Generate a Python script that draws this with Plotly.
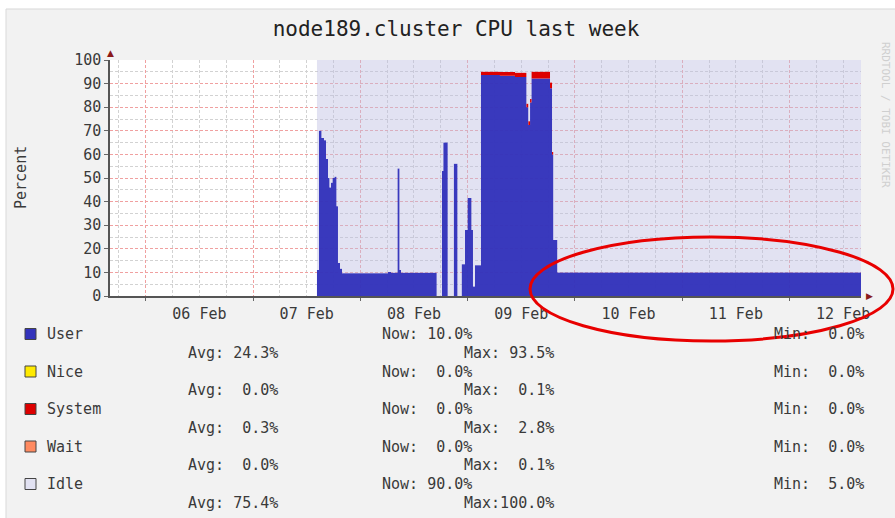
import plotly.graph_objects as go

# ---- data ----
times = [
    "2010-02-07 14:18", "2010-02-07 14:45", "2010-02-07 15:19", "2010-02-07 15:52",
    "2010-02-07 16:19", "2010-02-07 16:46", "2010-02-07 17:06", "2010-02-07 17:26",
    "2010-02-07 17:47", "2010-02-07 18:13", "2010-02-07 18:40", "2010-02-07 19:00",
    "2010-02-07 19:27", "2010-02-07 19:54", "2010-02-08 06:11", "2010-02-08 06:52",
    "2010-02-08 08:19", "2010-02-08 08:46", "2010-02-08 09:06", "2010-02-08 17:05",
    "2010-02-08 18:16", "2010-02-08 18:34", "2010-02-08 19:33", "2010-02-08 20:55",
    "2010-02-08 21:44", "2010-02-08 22:41", "2010-02-08 23:25", "2010-02-08 23:59",
    "2010-02-09 00:52", "2010-02-09 01:12", "2010-02-09 01:39", "2010-02-09 02:59",
    "2010-02-09 07:14", "2010-02-09 10:36", "2010-02-09 13:10", "2010-02-09 13:35",
    "2010-02-09 13:58", "2010-02-09 14:17", "2010-02-09 18:26", "2010-02-09 18:53",
    "2010-02-09 19:10", "2010-02-09 20:04", "2010-02-12 16:00",
]
user = [11, 70, 67, 66, 58, 50, 46, 48, 50, 50.5, 38, 14, 11.5, 9.6, 10.2, 9.9,
        54, 11, 9.8, 0, 53, 65, 0, 56, 0, 13.5, 28, 41.5, 28, 4, 13, 93.6,
        93.3, 92.8, 80, 72.5, 82, 92.2, 88, 60, 23.7, 10.0, 10.0]
nice = [0, 0, 0, 0, 0, 0, 0, 0, 0, 0, 0, 0, 0, 0, 0, 0, 0, 0, 0, 0, 0, 0,
        0, 0, 0, 0, 0, 0, 0, 0, 0, 0, 0, 0, 0, 0, 0, 0, 0, 0, 0, 0, 0]
system = [0, 0, 0, 0, 0, 0, 0, 0, 0, 0, 0, 0, 0, 0, 0, 0, 0, 0, 0, 0, 0, 0,
          0, 0, 0, 0, 0, 0, 0, 0, 0, 1.4, 1.6, 1.8, 1.5, 1.5, 1.5, 2.8, 2.5, 1.0,
          0, 0, 0]
wait = [0, 0, 0, 0, 0, 0, 0, 0, 0, 0, 0, 0, 0, 0, 0, 0, 0, 0, 0, 0, 0, 0,
        0, 0, 0, 0, 0, 0, 0, 0, 0, 0, 0, 0, 0, 0, 0, 0, 0, 0, 0, 0, 0]
idle = [89, 30, 33, 34, 42, 50, 54, 52, 50, 49.5, 62, 86, 88.5, 90.4, 89.8, 90.1,
        46, 89, 90.2, 100, 47, 35, 100, 44, 100, 86.5, 72, 58.5, 72, 96, 87, 5,
        5.1, 5.4, 18.5, 26, 16.5, 5, 9.5, 39, 76.3, 90.0, 90.0]

series_names = ["User", "Nice", "System", "Wait", "Idle"]
series_colors = ["#3333bb", "#ffea00", "#dd0000", "#ff8a60", "#e2e2f2"]
fill_colors = ["rgba(51,51,187,0.97)", "rgba(255,234,0,1)", "rgba(221,0,0,1)",
               "rgba(255,138,96,1)", "rgba(190,190,226,0.45)"]
stat_now = ["10.0%", " 0.0%", " 0.0%", " 0.0%", "90.0%"]
stat_avg = ["24.3%", " 0.0%", " 0.3%", " 0.0%", "75.4%"]
stat_max = [" 93.5%", "  0.1%", "  2.8%", "  0.1%", "100.0%"]
stat_min = [" 0.0%", " 0.0%", " 0.0%", " 0.0%", " 5.0%"]

title_text = "node189.cluster CPU last week"
y_title = "Percent"
x_range = ["2010-02-05 16:00", "2010-02-12 16:00"]

MONO = "DejaVu Sans Mono"
W, H = 895, 518
L, R, T, B = 110, 34, 60, 222
PW, PH = W - L - R, H - T - B


def px(x):
    return (x - L) / PW


def py(y):
    return (H - B - y) / PH


fig = go.Figure()
for name, vals, fc in zip(series_names, [user, nice, system, wait, idle], fill_colors):
    fig.add_trace(go.Scatter(
        x=times, y=vals, name=name, mode="lines", stackgroup="cpu",
        line=dict(width=0, shape="hv"), fillcolor=fc, showlegend=False,
        hoverinfo="x+y+name",
    ))

shapes = []
# white strips outside the grey panel (top and left), plus panel border
shapes.append(dict(type="rect", xref="paper", yref="paper", layer="below",
                   x0=px(-5), x1=px(905), y0=py(-5), y1=py(9),
                   fillcolor="white", line=dict(width=0)))
shapes.append(dict(type="rect", xref="paper", yref="paper", layer="below",
                   x0=px(-5), x1=px(6), y0=py(-5), y1=py(530),
                   fillcolor="white", line=dict(width=0)))
shapes.append(dict(type="path", xref="paper", yref="paper", layer="below",
                   path="M %f,%f L %f,%f L %f,%f" % (px(6), py(530), px(6), py(9), px(905), py(9)),
                   line=dict(color="#d9d9d9", width=1)))
annotations = []
nb = "\u00a0"
row_y = [334, 371.5, 409, 446.5, 484]
for i, name in enumerate(series_names):
    yc = row_y[i]
    shapes.append(dict(type="rect", xref="paper", yref="paper",
                       x0=px(25), x1=px(36), y0=py(yc + 5.5), y1=py(yc - 5.5),
                       fillcolor=series_colors[i], line=dict(color="#444444", width=1)))
    items = [
        (45, yc, name),
        (380, yc, "Now:" + nb + stat_now[i].replace(" ", nb)),
        (772, yc, "Min:" + nb + stat_min[i].replace(" ", nb)),
        (186, yc + 18.8, "Avg:" + nb + stat_avg[i].replace(" ", nb)),
        (462, yc + 18.8, "Max:" + stat_max[i].replace(" ", nb)),
    ]
    for x0, y0, t in items:
        annotations.append(dict(xref="paper", yref="paper", x=px(x0), y=py(y0),
                                text=t, showarrow=False, xanchor="left", yanchor="middle",
                                font=dict(family=MONO, size=15, color="#3a3a3a")))

# y axis title
annotations.append(dict(xref="paper", yref="paper", x=px(21), y=py(178), text=y_title,
                        textangle=-90, showarrow=False, xanchor="center", yanchor="middle",
                        font=dict(family=MONO, size=15, color="#3a3a3a")))
# axis arrows
annotations.append(dict(xref="paper", yref="paper", x=px(110.5), y=py(53), text="▲",
                        showarrow=False, xanchor="center", yanchor="middle",
                        font=dict(family="DejaVu Sans", size=9, color="#8b1a1a")))
annotations.append(dict(xref="paper", yref="paper", x=px(869), y=py(296), text="▶",
                        showarrow=False, xanchor="center", yanchor="middle",
                        font=dict(family="DejaVu Sans", size=9, color="#8b1a1a")))
# faint vertical credit text
annotations.append(dict(xref="paper", yref="paper", x=px(886), y=py(115),
                        text="RRDTOOL / TOBI OETIKER", textangle=90, showarrow=False,
                        xanchor="center", yanchor="middle",
                        font=dict(family=MONO, size=11, color="#cfcfcf")))
# highlighted region (red ellipse)
shapes.append(dict(type="circle", xref="paper", yref="paper",
                   x0=px(530), x1=px(893), y0=py(237), y1=py(341),
                   line=dict(color="#e80000", width=3)))

fig.update_layout(
    width=W, height=H,
    margin=dict(l=L, r=R, t=T, b=B),
    paper_bgcolor="#f2f2f2", plot_bgcolor="white",
    font=dict(family=MONO, size=15, color="#3a3a3a"),
    title=dict(text=title_text, x=456 / W, xanchor="center", y=1 - 29 / H, yanchor="middle",
               font=dict(family=MONO, size=21, color="#222222")),
    shapes=shapes, annotations=annotations,
    xaxis=dict(
        type="date", range=x_range, tick0="2010-02-06", dtick=86400000,
        tickformat="%d %b", ticklabelmode="period",
        showgrid=True, gridcolor="#f0a0a0", griddash="3px,2px", gridwidth=1,
        showline=True, linecolor="#555555", linewidth=1.5,
        ticks="outside", ticklen=3, tickcolor="#666666",
        tickfont=dict(family=MONO, size=15, color="#3a3a3a"),
        zeroline=False, layer="above traces",
        minor=dict(tick0="2010-02-06", dtick=21600000, showgrid=True,
                   gridcolor="#d2d2d2", griddash="3px,2px", gridwidth=1),
    ),
    yaxis=dict(
        range=[0, 100], dtick=10, tick0=0,
        showgrid=True, gridcolor="#f0a0a0", griddash="3px,2px", gridwidth=1,
        showline=True, linecolor="#555555", linewidth=1.5,
        ticks="outside", ticklen=4, tickcolor="#666666", ticklabelstandoff=0,
        tickfont=dict(family=MONO, size=15, color="#3a3a3a"),
        zeroline=False, layer="above traces",
        minor=dict(dtick=5, showgrid=True, gridcolor="#d2d2d2", griddash="3px,2px", gridwidth=1),
    ),
)

fig.write_html(
    "out.html",
    config={"displayModeBar": False},
    post_script="document.body.style.margin='0px';document.body.style.overflow='hidden';",
)
